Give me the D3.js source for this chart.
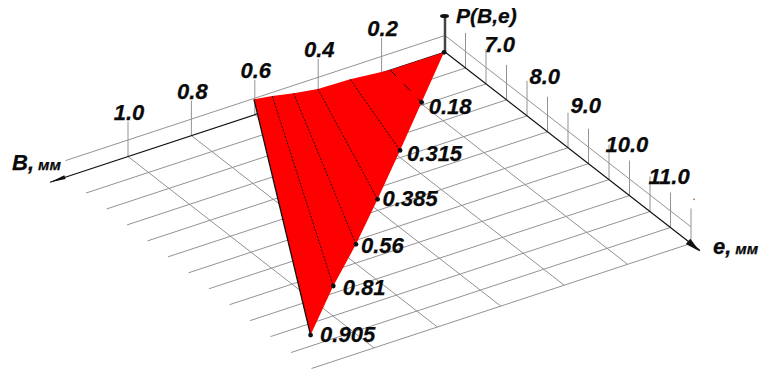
<!DOCTYPE html>
<html lang="en">
  <head>
  <title>P(B,e)</title>
    <style>
      html, body { margin: 0; padding: 0; background: #fff; overflow: hidden; }
      text {
        font-family: "Liberation Sans", Arial, sans-serif;
        font-weight: bold;
        font-style: italic;
        font-size: 22px;
        fill: #0a0a0a;
        stroke: #0a0a0a;
        stroke-width: .25px;
      }
      .unit { font-size: 15.5px; }
      .grid { stroke: #939393; stroke-width: 1px; fill: none; }
      .axis { stroke: #111; stroke-width: 1.2px; fill: none; }
      .contour { stroke: #111; stroke-width: 1px; fill: none; stroke-dasharray: 2 1.5; }
    </style>
  </head>
  <body>

<div id="my_dataviz"></div>

    <script src="https://d3js.org/d3.v7.min.js"></script>
    <script>
    // axis ticks
    var bTicks = [0.2, 0.4, 0.6, 0.8, 1.0];
    var bLabels = ["0.2", "0.4", "0.6", "0.8", "1.0"];
    var eTicks = [6.5, 7, 7.5, 8, 8.5, 9, 9.5, 10, 10.5, 11, 11.5, 12];
    var eLabelTicks = [7, 8, 9, 10, 11];
    var eLabels = ["7.0", "8.0", "9.0", "10.0", "11.0"];

    var topB = [0.558, 0.508, 0.453, 0.387, 0.288, 0.173];
    var topE = [5.655, 5.715, 5.811, 5.891, 5.914, 5.997];
    var edgeB = [1.104, 0.914, 0.745, 0.569, 0.380, 0.195];
    var edgeE = [11.257, 10.342, 9.588, 8.755, 7.842, 6.938];
    var edgeP = ["0.905", "0.81", "0.56", "0.385", "0.315", "0.18"];
    var apexB = 0.003, apexE = 6;

    var width = 759, height = 374;
    var originX = 445, originY = 52;
    var bEnd = 1.197, bArrow = 1.246, eArrow = 12.22;

    // oblique projection, one scale per screen direction
    var bx = d3.scaleLinear().domain([0, 1]).range([0, -317]);
    var by = d3.scaleLinear().domain([0, 1]).range([0, 104.5]);
    var ex = d3.scaleLinear().domain([6, 12]).range([0, 246]);
    var ey = d3.scaleLinear().domain([6, 12]).range([0, 191.4]);
    var z = d3.scaleLinear().domain([0, 1]).range([0, -16.5]);

    function px(b, e) { return originX + bx(b) + ex(e); }
    function py(b, e, h) { return originY + by(b) + ey(e) + z(h || 0); }

    var svg = d3.select("#my_dataviz")
        .append("svg")
        .attr("width", width)
        .attr("height", height)
        .style("display", "block");

    function seg(cls, b1, e1, h1, b2, e2, h2) {
      return svg.append("line")
          .attr("class", cls)
          .attr("x1", px(b1, e1))
          .attr("y1", py(b1, e1, h1))
          .attr("x2", px(b2, e2))
          .attr("y2", py(b2, e2, h2));
    }

    // floor grid
    eTicks.forEach(function(e) { seg("grid", 0, e, 0, bEnd, e, 0); });
    bTicks.forEach(function(b) { seg("grid", b, 6, 0, b, 12, 0); });

    // walls, top of the tick height is 1
    seg("grid", 0, 6, 1, bEnd, 6, 1);
    seg("grid", 0, 6, 1, 0, 12, 1);
    var wallHeight = 2.12;
    bTicks.forEach(function(b) { seg("grid", b, 6, 0, b, 6, wallHeight); });
    eTicks.forEach(function(e) { seg("grid", 0, e, 0, 0, e, wallHeight); });

    // axes
    seg("axis", 0, 6, 0, bArrow, 6, 0);
    seg("axis", 0, 6, 0, 0, eArrow, 0);
    seg("axis", 0, 6, 0, 0, 6, 2.1).style("stroke", "#444").style("stroke-width", "2.5px");

    function arrow(tipX, tipY, dx, dy, w) {
      var len = Math.sqrt(dx * dx + dy * dy), ux = dx / len, uy = dy / len;
      svg.append("path")
          .attr("d", d3.line()([
            [tipX, tipY],
            [tipX - dx - uy * w, tipY - dy + ux * w],
            [tipX - dx + uy * w, tipY - dy - ux * w]
          ]) + "Z")
          .attr("fill", "#111");
    }
    arrow(px(bArrow, 6), py(bArrow, 6), -15, 5, 2);
    arrow(px(0, eArrow), py(0, eArrow) + 1, 12, 10, 3.5);
    svg.append("ellipse")
        .attr("cx", px(0, 6) - 0.5)
        .attr("cy", py(0, 6, 2.18))
        .attr("rx", 4.5)
        .attr("ry", 2)
        .attr("fill", "#111");
    // stray speck next to the last tick
    svg.append("circle")
        .attr("cx", px(0, 12) + 3)
        .attr("cy", py(0, 12, 2.67))
        .attr("r", 0.9)
        .attr("fill", "#a5733a");

    // surface
    var outline = topB.map(function(b, i) { return [px(b, topE[i]), py(b, topE[i])]; })
        .concat([[px(apexB, apexE), py(apexB, apexE)]])
        .concat(edgeB.slice().reverse().map(function(b, i) {
          var e = edgeE[edgeE.length - 1 - i];
          return [px(b, e), py(b, e)];
        }));
    svg.append("path")
        .attr("d", d3.line()(outline) + "Z")
        .attr("fill", "#ff0000");

    // lines across the surface, the first one is the solid left edge
    topB.forEach(function(b, i) {
      var l = seg("contour", b, topE[i], 0, edgeB[i], edgeE[i], 0);
      if (i == 0) l.style("stroke-dasharray", "none").style("stroke-width", "1.3px");
      if (i == 5) l.style("stroke-dasharray", "9 11");
    });

    // points and their labels
    var dotB = edgeB.concat([apexB]), dotE = edgeE.concat([apexE]);
    svg.selectAll("circle.dot")
        .data(dotB)
        .enter().append("circle")
        .attr("class", "dot")
        .attr("cx", function(b, i) { return px(b, dotE[i]); })
        .attr("cy", function(b, i) { return py(b, dotE[i]); })
        .attr("r", 2.4)
        .attr("fill", "#111");

    var edgeDx = [9.5, 9.5, 5, 5, 7, 7], edgeDy = [7, 9, 8.5, 6.5, 10.5, 12];
    svg.selectAll("text.edge")
        .data(edgeP)
        .enter().append("text")
        .attr("class", "edge")
        .attr("x", function(d, i) { return px(edgeB[i], edgeE[i]) + edgeDx[i]; })
        .attr("y", function(d, i) { return py(edgeB[i], edgeE[i]) + edgeDy[i]; })
        .text(function(d) { return d; });

    // tick labels
    svg.selectAll("text.b")
        .data(bLabels)
        .enter().append("text")
        .attr("class", "b")
        .attr("text-anchor", "middle")
        .attr("x", function(d, i) { return px(bTicks[i], 6) + 1; })
        .attr("y", function(d, i) { return py(bTicks[i], 6, wallHeight) - 1.5; })
        .text(function(d) { return d; });

    var eDx = [-1.5, 2.5, 2.5, -3.5, -1.5], eDy = [3, 3, 0, 7, 7];
    svg.selectAll("text.e")
        .data(eLabels)
        .enter().append("text")
        .attr("class", "e")
        .attr("x", function(d, i) { return px(0, eLabelTicks[i]) + eDx[i]; })
        .attr("y", function(d, i) { return py(0, eLabelTicks[i], wallHeight) + eDy[i]; })
        .text(function(d) { return d; });

    // axis titles
    function title(x, y, main, unit) {
      var t = svg.append("text").attr("x", x).attr("y", y).text(main);
      if (unit) t.append("tspan").attr("class", "unit").attr("dx", 4).text(unit);
      return t;
    }
    title(12, 170, "B,", "мм");
    title(456, 23, "P(B,e)").style("font-size", "21px");
    title(713, 254, "e,", "мм");
    </script>
  </body>
</html>
